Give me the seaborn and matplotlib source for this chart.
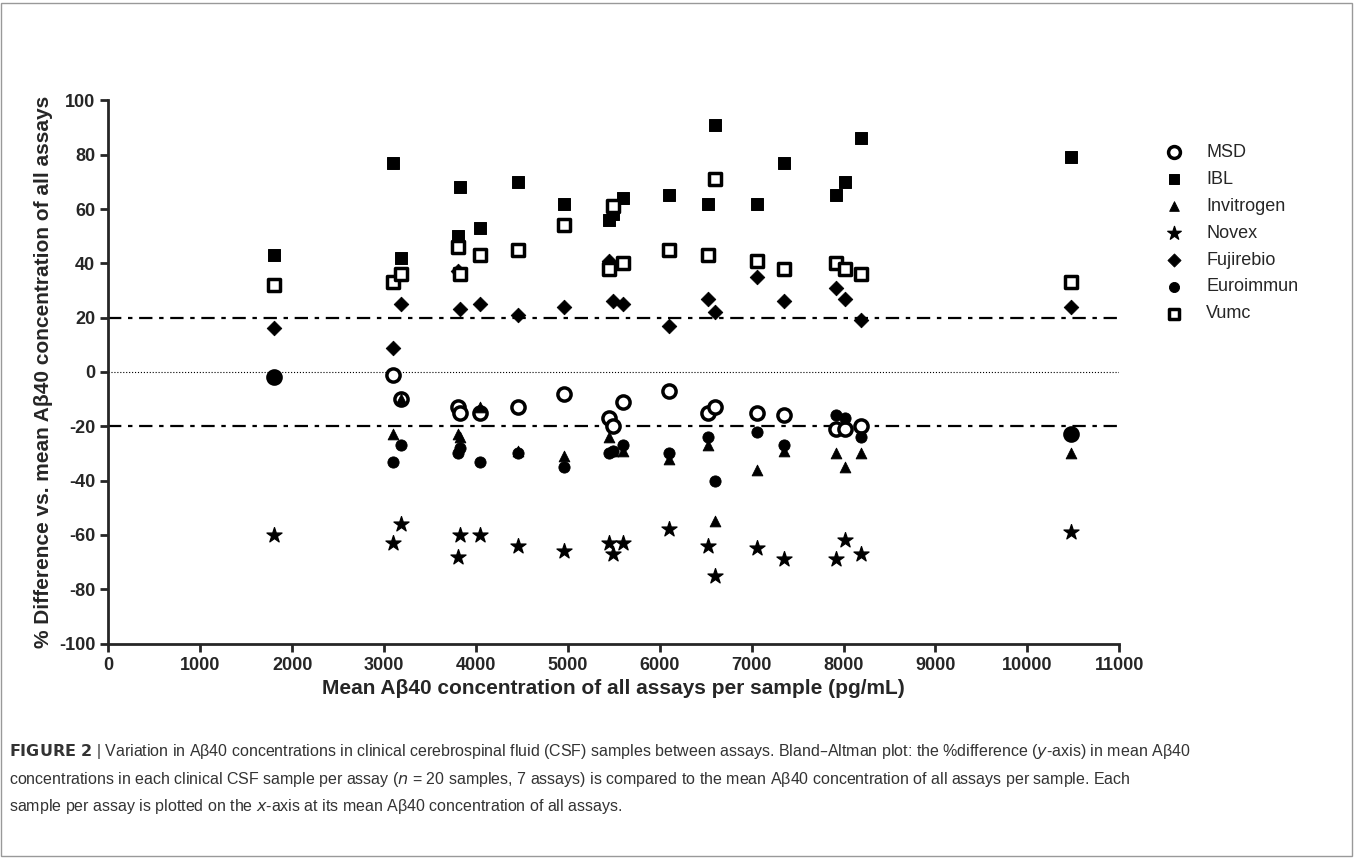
import numpy as np
import pandas as pd
import seaborn as sns
import matplotlib.pyplot as plt

# mean Abeta40 concentration of all assays, per sample
conc = [1800, 3100, 3180, 3800, 3830, 4040, 4460, 4960, 5450, 5490,
        5600, 6100, 6520, 6600, 7060, 7350, 7920, 8020, 8190, 10480]

msd = [-2, -1, -10, -13, -15, -15, -13, -8, -17, -20, -11, -7, -15, -13, -15, -16, -21, -21, -20, -23]
ibl = [43, 77, 42, 50, 68, 53, 70, 62, 56, 58, 64, 65, 62, 91, 62, 77, 65, 70, 86, 79]
invitrogen = [-2, -23, -10, -23, -24, -13, -29, -31, -24, -29, -29, -32, -27, -55, -36, -29, -30, -35, -30, -30]
novex = [-60, -63, -56, -68, -60, -60, -64, -66, -63, -67, -63, -58, -64, -75, -65, -69, -69, -62, -67, -59]
fujirebio = [16, 9, 25, 37, 23, 25, 21, 24, 41, 26, 25, 17, 27, 22, 35, 26, 31, 27, 19, 24]
euroimmun = [-2, -33, -27, -30, -28, -33, -30, -35, -30, -29, -27, -30, -24, -40, -22, -27, -16, -17, -24, -23]
vumc = [32, 33, 36, 46, 36, 43, 45, 54, 38, 61, 40, 45, 43, 71, 41, 38, 40, 38, 36, 33]

assays = ['MSD', 'IBL', 'Invitrogen', 'Novex', 'Fujirebio', 'Euroimmun', 'Vumc']
values = [msd, ibl, invitrogen, novex, fujirebio, euroimmun, vumc]

xticks = list(range(0, 11001, 1000))
yticks = list(range(-100, 101, 20))

rows = []
for name, vals in zip(assays, values):
    for x, y in zip(conc, vals):
        rows.append({'conc': x, 'diff': y, 'assay': name})
df = pd.DataFrame(rows)

sns.set_style('ticks')
plt.rcParams['font.family'] = ['Liberation Sans', 'DejaVu Sans']

fig = plt.figure(figsize=(13.55, 8.58), dpi=100)
ax = fig.add_axes([0.08, 0.25, 0.746, 0.633])

ax.axhline(20, color='black', ls=(0, (6, 3, 2, 3)), lw=1.6, zorder=1)
ax.axhline(-20, color='black', ls=(0, (6, 3, 2, 3)), lw=1.6, zorder=1)
ax.axhline(0, color='black', ls=':', lw=0.8, zorder=1)

markers = {'IBL': 's', 'Invitrogen': '^', 'Novex': '*', 'Fujirebio': 'D', 'Euroimmun': 'o'}
sizes = {'IBL': 75, 'Invitrogen': 60, 'Novex': 130, 'Fujirebio': 55, 'Euroimmun': 65}
for name in assays:
    sub = df[df['assay'] == name]
    if name == 'MSD':
        ax.scatter(sub['conc'], sub['diff'], marker='o', s=90, facecolors='white',
                   edgecolors='black', linewidths=2.5, label=name, zorder=3)
    elif name == 'Vumc':
        ax.scatter(sub['conc'], sub['diff'], marker='s', s=75, facecolors='white',
                   edgecolors='black', linewidths=2.5, label=name, zorder=3)
    else:
        sns.scatterplot(data=sub, x='conc', y='diff', marker=markers[name], s=sizes[name],
                        color='black', edgecolor='black', label=name, ax=ax, zorder=3)

ax.set_xlim(0, 11000)
ax.set_ylim(-100, 100)
ax.set_xticks(xticks)
ax.set_xticklabels([str(t) for t in xticks], fontweight='bold')
ax.set_yticks(yticks)
ax.set_yticklabels([str(t) for t in yticks], fontweight='bold')
for s in ['top', 'right']:
    ax.spines[s].set_visible(False)
for s in ['left', 'bottom']:
    ax.spines[s].set_linewidth(2)
ax.tick_params(width=2, length=6, labelsize=13)
ax.set_xlabel('Mean Aβ40 concentration of all assays per sample (pg/mL)', fontsize=15, fontweight='bold')
ax.set_ylabel('% Difference vs. mean Aβ40 concentration of all assays', fontsize=15, fontweight='bold')

leg = ax.legend(loc='upper left', bbox_to_anchor=(1.02, 0.95), frameon=False,
                fontsize=13, labelspacing=0.55, handletextpad=0.8, markerscale=0.9)

fig.text(0.007, 0.135,
         r'$\bf{FIGURE\ 2}$ | Variation in Aβ40 concentrations in clinical cerebrospinal fluid (CSF) samples between assays. Bland–Altman plot: the %difference ($\it{y}$-axis) in mean Aβ40' '\n'
         r'concentrations in each clinical CSF sample per assay ($\it{n}$ = 20 samples, 7 assays) is compared to the mean Aβ40 concentration of all assays per sample. Each' '\n'
         r'sample per assay is plotted on the $\it{x}$-axis at its mean Aβ40 concentration of all assays.',
         fontsize=11.5, va='top', linespacing=1.6, color='#333333')

fig.patches.append(plt.Rectangle((0.001, 0.002), 0.997, 0.995, transform=fig.transFigure,
                                 fill=False, edgecolor='#999999', lw=1))

fig.savefig('out.png', dpi=100)
